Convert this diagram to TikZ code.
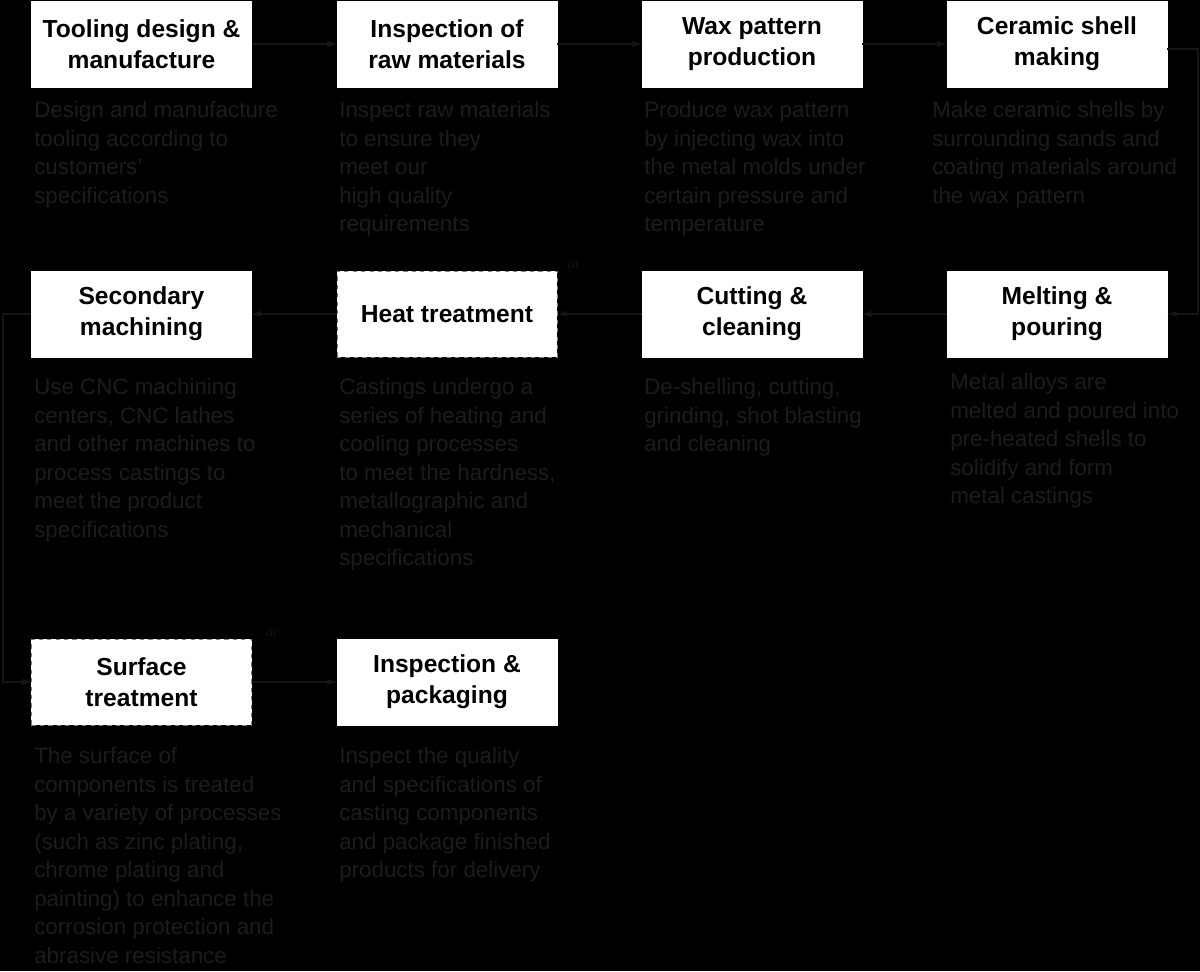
\documentclass[tikz,border=0pt]{standalone}
\usepackage{fontspec}
\setmainfont{Liberation Sans}
\usetikzlibrary{arrows.meta}
\usetikzlibrary{positioning}
\definecolor{descgray}{HTML}{1C1C1C}
\definecolor{linegray}{HTML}{151515}
\begin{document}
\begin{tikzpicture}[x=0.025cm, y=-0.025cm, >=Latex,
    stage/.style={fill=white, draw=white, minimum width=5.5cm, minimum height=2.15cm,
      align=center, font=\fontsize{17.5}{22}\selectfont\bfseries, inner sep=0pt},
    dashstage/.style={stage, draw=gray, dashed},
    desc/.style={anchor=north west, align=left, text=descgray, inner sep=0pt,
      font=\fontsize{15.9}{20.3}\selectfont},
    flow/.style={->, draw=linegray, line width=0.8pt},
    note/.style={text=descgray, font=\fontsize{6}{7}\selectfont, inner sep=0pt}]
  \useasboundingbox (0,0) rectangle (1200,971);
  \fill[black] (0,0) rectangle (1200,971);
  % top row
  \node[stage]     (tool) at (141.5,44)  {Tooling design \&\\manufacture};
  \node[stage]     (insp) at (447,44)    {Inspection of\\raw materials};
  \node[stage]     (wax)  at (752,44)    {Wax pattern\\production};
  \node[stage]     (cera) at (1057,44)   {Ceramic shell\\making};
  % middle row
  \node[stage]     (mach) at (141.5,314) {Secondary\\machining};
  \node[dashstage] (heat) at (447,314)   {Heat treatment};
  \node[stage]     (cut)  at (752,314)   {Cutting \&\\cleaning};
  \node[stage]     (melt) at (1057,314)  {Melting \&\\pouring};
  % bottom row
  \node[dashstage] (surf) at (141.5,682) {Surface\\treatment};
  \node[stage]     (pack) at (447,682)   {Inspection \&\\packaging};
  % notes
  \node[note] at (573,265) {(1)};
  \node[note] at (271,633) {(1)};
  % descriptions
  \node[desc] at (34,101)  {Design and manufacture\\tooling according to\\customers'\\specifications};
  \node[desc] at (339,101) {Inspect raw materials\\to ensure they\\meet our\\high quality\\requirements};
  \node[desc] at (644,101) {Produce wax pattern\\by injecting wax into\\the metal molds under\\certain pressure and\\temperature};
  \node[desc] at (932,101) {Make ceramic shells by\\surrounding sands and\\coating materials around\\the wax pattern};
  \node[desc] at (34,378)  {Use CNC machining\\centers, CNC lathes\\and other machines to\\process castings to\\meet the product\\specifications};
  \node[desc] at (339,378) {Castings undergo a\\series of heating and\\cooling processes\\to meet the hardness,\\metallographic and\\mechanical\\specifications};
  \node[desc] at (644,378) {De-shelling, cutting,\\grinding, shot blasting\\and cleaning};
  \node[desc] at (950,373) {Metal alloys are\\melted and poured into\\pre-heated shells to\\solidify and form\\metal castings};
  \node[desc] at (34,747)  {The surface of\\components is treated\\by a variety of processes\\(such as zinc plating,\\chrome plating and\\painting) to enhance the\\corrosion protection and\\abrasive resistance};
  \node[desc] at (339,747) {Inspect the quality\\and specifications of\\casting components\\and package finished\\products for delivery};
  % connectors
  \draw[flow] (tool) -- (insp);
  \draw[flow] (insp) -- (wax);
  \draw[flow] (wax) -- (cera);
  \draw[flow] (cera.east |- 0,49) -- (1198,49) |- (melt.east);
  \draw[flow] (melt) -- (cut);
  \draw[flow] (cut) -- (heat);
  \draw[flow] (heat) -- (mach);
  \draw[flow] (mach.west) -- (3,314) |- (surf.west);
  \draw[flow] (surf) -- (pack);
\end{tikzpicture}
\end{document}
